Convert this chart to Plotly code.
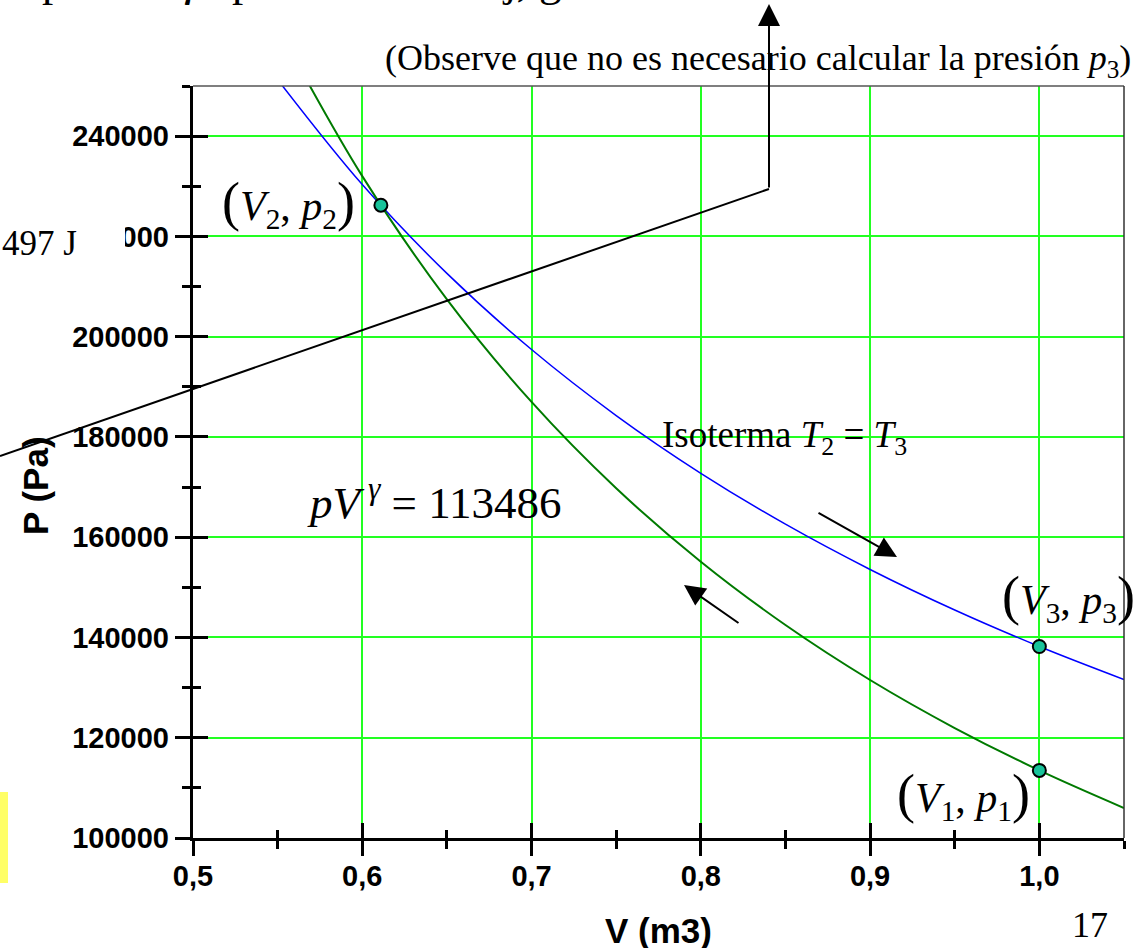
import plotly.graph_objects as go

# Adiabatic compression curve p V^gamma = 113486 (values in Pa, V in m3)
V_adiabat = [0.56, 0.60, 0.65, 0.70, 0.75, 0.80, 0.85, 0.90, 0.95, 1.00, 1.05]
p_adiabat = [255550, 232020, 207430, 186980, 169760, 155100, 142480, 131520, 121940, 113486, 105990]

# Isotherm T2 = T3
V_isotherm = [0.55, 0.60, 0.65, 0.70, 0.75, 0.80, 0.85, 0.90, 0.95, 1.00, 1.05]
p_isotherm = [251270, 230330, 212620, 197430, 184270, 172750, 162590, 153560, 145470, 138200, 131620]

# State points 1, 2, 3
V_states = [1.00, 0.611, 1.00]
p_states = [113486, 226220, 138200]

x_ticks = [0.5, 0.6, 0.7, 0.8, 0.9, 1.0]
y_ticks = [100000, 120000, 140000, 160000, 180000, 200000, 220000, 240000]

W, H = 1145, 948
L, R, T, B = 193, 1124, 86, 838
SERIF = "Liberation Serif"
SANS = "Liberation Sans"


def xp(px):
    return (px - L) / (R - L)


def yp(py):
    return (B - py) / (B - T)


fig = go.Figure()

fig.add_trace(go.Scatter(x=V_isotherm, y=p_isotherm, mode="lines",
                         line=dict(color="#0000ff", width=1.5, shape="spline"),
                         showlegend=False, hoverinfo="skip"))
fig.add_trace(go.Scatter(x=V_adiabat, y=p_adiabat, mode="lines",
                         line=dict(color="#007a00", width=2, shape="spline"),
                         showlegend=False, hoverinfo="skip"))
fig.add_trace(go.Scatter(x=V_states, y=p_states, mode="markers",
                         marker=dict(size=13, color="#19c39a",
                                     line=dict(color="black", width=2)),
                         showlegend=False, hoverinfo="skip", cliponaxis=False))
# trace on the overlay axes (inside ticks + labels)
fig.add_trace(go.Scatter(x=[None], y=[None], xaxis="x2", yaxis="y2",
                         showlegend=False, hoverinfo="skip"))

tick_font = dict(family=SANS, size=29, color="black", weight="bold")
TW = 2.5

fig.update_layout(
    width=W, height=H,
    margin=dict(l=L, r=W - R, t=T, b=H - B),
    paper_bgcolor="white", plot_bgcolor="white",
    separators=",.",
    # outward half of the crossing ticks, axis line and grid
    xaxis=dict(range=[0.5, 1.05], tickvals=x_ticks, showticklabels=False,
               showline=True, linecolor="black", linewidth=3, zeroline=False,
               ticks="outside", ticklen=15, tickwidth=TW, tickcolor="black",
               showgrid=True, gridcolor="#22ff22", gridwidth=2,
               minor=dict(ticks="outside", ticklen=8, tickwidth=TW,
                          tickcolor="black", dtick=0.05, tick0=0.5, showgrid=False)),
    yaxis=dict(range=[100000, 250000], tickvals=y_ticks, showticklabels=False,
               showline=True, linecolor="black", linewidth=3, zeroline=False,
               ticks="outside", ticklen=15, tickwidth=TW, tickcolor="black",
               showgrid=True, gridcolor="#22ff22", gridwidth=2,
               minor=dict(ticks="outside", ticklen=8, tickwidth=TW,
                          tickcolor="black", dtick=10000, tick0=100000, showgrid=False)),
    # inward half of the crossing ticks, with the tick labels
    xaxis2=dict(range=[0.5, 1.05], overlaying="x", anchor="y2", side="bottom",
                tickvals=x_ticks, tickformat=".1f", tickfont=tick_font,
                ticklabelstandoff=18,
                ticks="inside", ticklen=15, tickwidth=TW, tickcolor="black",
                showgrid=False, showline=False, zeroline=False,
                minor=dict(ticks="inside", ticklen=8, tickwidth=TW,
                           tickcolor="black", dtick=0.05, tick0=0.5)),
    yaxis2=dict(range=[100000, 250000], overlaying="y", anchor="x2", side="left",
                tickvals=y_ticks, tickformat="d", tickfont=tick_font,
                ticklabelstandoff=23,
                ticks="inside", ticklen=15, tickwidth=TW, tickcolor="black",
                showgrid=False, showline=False, zeroline=False,
                minor=dict(ticks="inside", ticklen=8, tickwidth=TW,
                           tickcolor="black", dtick=10000, tick0=100000)),
)

shapes = [
    # top and right frame
    dict(type="line", xref="paper", yref="paper", x0=0, x1=1, y0=1, y1=1,
         line=dict(color="#555555", width=1.5)),
    dict(type="line", xref="paper", yref="paper", x0=1, x1=1, y0=0, y1=1,
         line=dict(color="#333333", width=1.5)),
    # callout line from the left margin to the corner below the arrow
    dict(type="line", xref="paper", yref="paper", x0=xp(0), y0=yp(456),
         x1=xp(769), y1=yp(189), line=dict(color="black", width=2), layer="above"),
    # white label box with "497 J"
    dict(type="rect", xref="paper", yref="paper", x0=xp(-5), x1=xp(125),
         y0=yp(270), y1=yp(216), fillcolor="white", line=dict(width=0), layer="above"),
    # yellow strip at lower-left
    dict(type="rect", xref="paper", yref="paper", x0=xp(-5), x1=xp(8),
         y0=yp(883), y1=yp(792), fillcolor="#ffff66", line=dict(width=0), layer="above"),
]
fig.update_layout(shapes=shapes)

ann = []


def text(px, py, s, size, family=SERIF, xanchor="left", yanchor="middle", **kw):
    ann.append(dict(x=xp(px), y=yp(py), xref="paper", yref="paper", text=s,
                    showarrow=False, xanchor=xanchor, yanchor=yanchor,
                    font=dict(family=family, size=size, color="black"), **kw))


def arrow(tipx, tipy, tailx, taily, size=2.1, width=2):
    ann.append(dict(x=xp(tipx), y=yp(tipy), xref="paper", yref="paper", text="",
                    showarrow=True, ax=tailx - tipx, ay=taily - tipy,
                    arrowhead=2, arrowsize=size, arrowwidth=width,
                    arrowcolor="black"))


def pair(i):
    big = "<span style='font-size:54px'>%s</span>"
    return big % "(" + "<i>V</i><sub>%d</sub>, <i>p</i><sub>%d</sub>" % (i, i) + big % ")"


# sentence running above the slide crop, only its descenders show
for px, s in [(40, "p"), (180, "<i>γ</i>"), (230, "p"), (500, "j, g")]:
    text(px, 15, s, 45, yanchor="bottom", yshift=7)

text(383, 60, "(Observe que no es necesario calcular la presión <i>p</i><sub>3</sub>)", 36)
text(0, 243, "497 J", 35)
text(220, 203, pair(2), 42)
text(1000, 597, pair(3), 42)
text(895, 795, pair(1), 42)
text(660, 437, "Isoterma <i>T</i><sub>2</sub> = <i>T</i><sub>3</sub>", 37)
text(305, 500, "<i>pV</i><sup> <i>γ</i></sup> = 113486", 45)
text(1090, 925, "17", 36, xanchor="center")
ann.append(dict(x=xp(658), y=yp(930), xref="paper", yref="paper", text="<b>V (m3)</b>",
                showarrow=False, xanchor="center", yanchor="middle",
                font=dict(family=SANS, size=35, color="black")))
ann.append(dict(x=xp(35), y=yp(486), xref="paper", yref="paper", text="<b>P (Pa)</b>",
                showarrow=False, textangle=-90, xanchor="center", yanchor="middle",
                font=dict(family=SANS, size=35, color="black")))

arrow(897, 557, 817, 512)
arrow(684, 585, 740, 624)
arrow(769, 4, 769, 189, size=2.2)

fig.update_layout(annotations=ann)

fig.write_html("out.html")
